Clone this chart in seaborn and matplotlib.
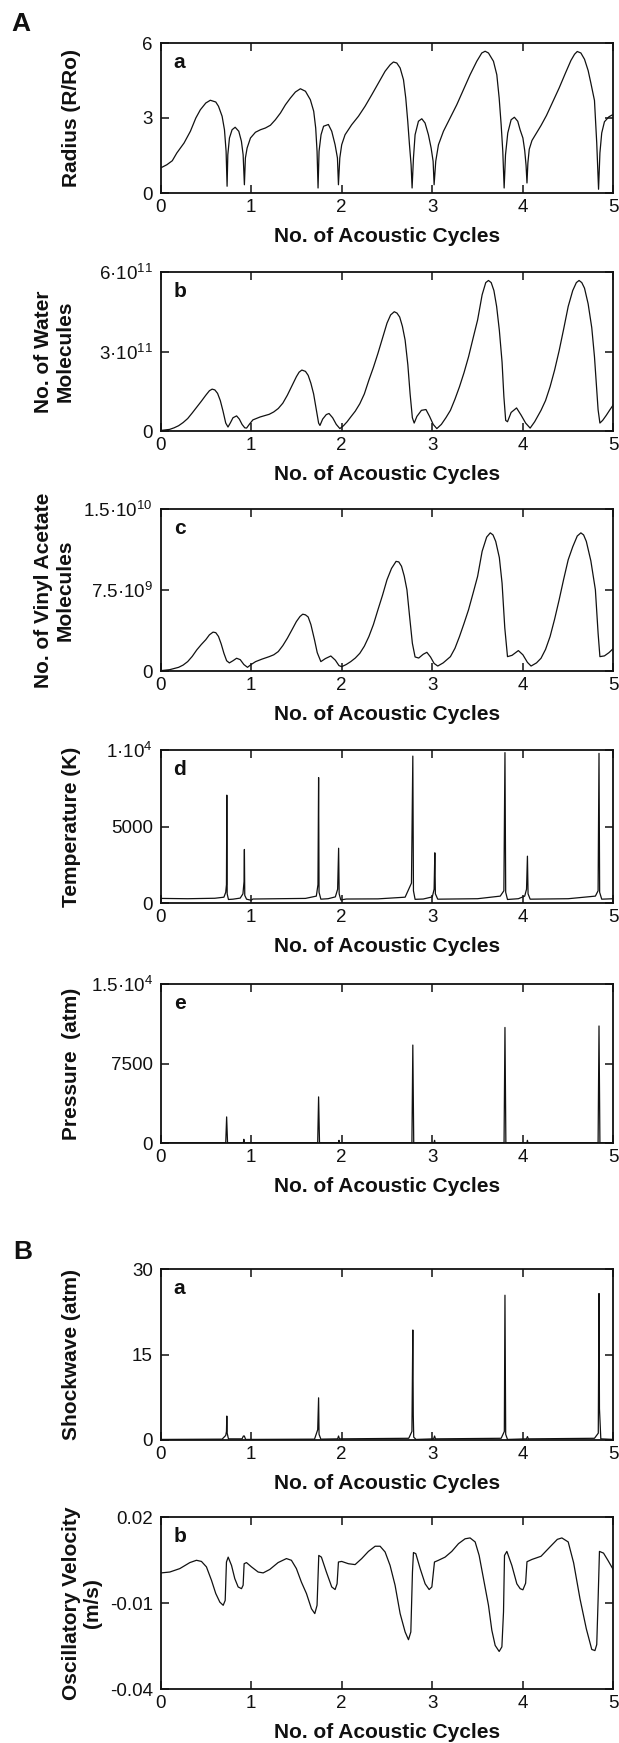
import numpy as np
import matplotlib
matplotlib.use("Agg")
import matplotlib.pyplot as plt
import seaborn as sns

# ──────────────────────────────────────────────
# DATA
# ──────────────────────────────────────────────

radius_x = [0.0, 0.07, 0.13, 0.18, 0.26, 0.33, 0.39, 0.44, 0.5, 0.55, 0.61, 0.64,
            0.68, 0.706, 0.724, 0.735, 0.743, 0.761, 0.79, 0.824, 0.864, 0.893,
            0.912, 0.926, 0.937, 0.956, 0.993, 1.048, 1.103, 1.158, 1.213, 1.268,
            1.324, 1.379, 1.434, 1.489, 1.544, 1.6, 1.654, 1.691, 1.713, 1.728,
            1.739, 1.75, 1.772, 1.8, 1.853, 1.89, 1.927, 1.953, 1.964, 1.979, 2.0,
            2.037, 2.11, 2.185, 2.258, 2.332, 2.405, 2.479, 2.535, 2.571, 2.608,
            2.645, 2.682, 2.707, 2.729, 2.748, 2.766, 2.777, 2.792, 2.81, 2.847,
            2.884, 2.92, 2.957, 2.987, 3.009, 3.02, 3.038, 3.068, 3.123, 3.196,
            3.27, 3.343, 3.417, 3.491, 3.546, 3.583, 3.62, 3.675, 3.712, 3.738,
            3.76, 3.778, 3.793, 3.808, 3.833, 3.87, 3.906, 3.943, 3.969, 4.0,
            4.02, 4.035, 4.045, 4.055, 4.07, 4.1, 4.15, 4.2, 4.26, 4.33, 4.4,
            4.47, 4.53, 4.57, 4.6, 4.64, 4.68, 4.72, 4.75, 4.79, 4.815, 4.835,
            4.85, 4.87, 4.9, 4.95, 5.0]
radius_y = [1.0, 1.13, 1.29, 1.6, 2.0, 2.47, 3.0, 3.33, 3.6, 3.71, 3.64, 3.47,
            3.07, 2.53, 1.67, 0.27, 1.53, 2.2, 2.53, 2.63, 2.47, 2.07,
            1.53, 0.33, 1.4, 1.8, 2.2, 2.43, 2.53, 2.6, 2.71, 2.93,
            3.2, 3.53, 3.8, 4.04, 4.17, 4.07, 3.73, 3.27, 2.6, 1.67,
            0.2, 1.67, 2.33, 2.67, 2.74, 2.47, 1.93, 1.4, 0.33, 1.4, 1.93,
            2.33, 2.73, 3.07, 3.47, 3.93, 4.4, 4.87, 5.13, 5.24, 5.2,
            5.0, 4.53, 3.8, 2.87, 1.93, 1.13, 0.2, 1.4, 2.33, 2.87,
            2.97, 2.8, 2.33, 1.8, 1.27, 0.33, 1.27, 1.93, 2.47, 3.0,
            3.53, 4.13, 4.73, 5.27, 5.6, 5.67, 5.6, 5.27, 4.73, 3.8,
            2.73, 1.67, 0.2, 1.53, 2.4, 2.93, 3.03, 2.87, 2.53, 2.2,
            1.7, 1.1, 0.4, 1.2, 1.75, 2.1, 2.4, 2.7, 3.1, 3.65, 4.2,
            4.8, 5.3, 5.55, 5.66, 5.6, 5.35, 4.9, 4.4, 3.7, 2.0, 0.15,
            1.6, 2.4, 2.85, 3.05, 3.15]

# number of water molecules, in units of 1e11
water_x = [0, 0.1, 0.15, 0.2, 0.25, 0.3, 0.35, 0.4, 0.45, 0.5, 0.54, 0.57, 0.6, 0.63,
           0.66, 0.69, 0.72, 0.745, 0.77, 0.8, 0.84, 0.87, 0.9, 0.93, 0.95, 0.98,
           1.02, 1.1, 1.2, 1.25, 1.3, 1.35, 1.4, 1.45, 1.5, 1.53, 1.56, 1.6, 1.63,
           1.66, 1.69, 1.72, 1.745, 1.76, 1.79, 1.83, 1.86, 1.9, 1.94, 1.98, 2.02,
           2.06, 2.1, 2.15, 2.2, 2.25, 2.3, 2.35, 2.4, 2.45, 2.5, 2.54, 2.58, 2.61,
           2.64, 2.67, 2.7, 2.73, 2.755, 2.78, 2.8, 2.83, 2.88, 2.93, 2.97, 3.01,
           3.05, 3.1, 3.15, 3.2, 3.25, 3.3, 3.35, 3.4, 3.45, 3.5, 3.55, 3.59, 3.62,
           3.65, 3.68, 3.71, 3.74, 3.77, 3.79, 3.81, 3.83, 3.87, 3.93, 3.98, 4.03,
           4.08, 4.13, 4.2, 4.25, 4.3, 4.35, 4.4, 4.45, 4.5, 4.55, 4.59, 4.62, 4.65,
           4.68, 4.72, 4.76, 4.79, 4.81, 4.83, 4.85, 4.88, 4.92, 4.96, 5.0]
water_y = [0.02, 0.06, 0.12, 0.2, 0.32, 0.47, 0.68, 0.9, 1.12, 1.35, 1.52, 1.58, 1.55,
           1.42, 1.15, 0.75, 0.3, 0.15, 0.3, 0.5, 0.57, 0.45, 0.25, 0.12, 0.11,
           0.25, 0.42, 0.53, 0.63, 0.72, 0.85, 1.05, 1.35, 1.7, 2.05, 2.22, 2.3,
           2.25, 2.1, 1.8, 1.4, 0.8, 0.3, 0.21, 0.45, 0.62, 0.66, 0.5, 0.25, 0.09,
           0.2, 0.35, 0.53, 0.75, 1.03, 1.4, 1.92, 2.4, 2.93, 3.5, 4.07, 4.38, 4.5,
           4.45, 4.3, 3.95, 3.43, 2.5, 1.4, 0.5, 0.3, 0.55, 0.78, 0.81, 0.55, 0.25,
           0.09, 0.25, 0.5, 0.78, 1.2, 1.67, 2.2, 2.8, 3.5, 4.19, 5.14, 5.6, 5.68,
           5.6, 5.3, 4.7, 3.8, 2.6, 1.3, 0.4, 0.35, 0.7, 0.87, 0.6, 0.3,
           0.11, 0.35, 0.78, 1.15, 1.67, 2.3, 3.03, 3.85, 4.7, 5.3, 5.6, 5.68, 5.6,
           5.39, 4.8, 3.9, 2.8, 1.8, 0.8, 0.3, 0.4, 0.59, 0.8, 1.0]
WATER_UNIT = 1e11

# number of vinyl acetate molecules, in units of 1e9
vinyl_x = [0, 0.1, 0.2, 0.25, 0.3, 0.35, 0.4, 0.45, 0.5, 0.54, 0.58, 0.61, 0.64, 0.67,
           0.7, 0.73, 0.76, 0.8, 0.84, 0.88, 0.92, 0.96, 1.0, 1.05, 1.12, 1.2, 1.25,
           1.3, 1.35, 1.4, 1.45, 1.5, 1.54, 1.57, 1.6, 1.63, 1.66, 1.7, 1.73, 1.77,
           1.82, 1.88, 1.93, 1.97, 2.0, 2.05, 2.1, 2.15, 2.2, 2.25, 2.3, 2.35, 2.4,
           2.45, 2.5, 2.55, 2.6, 2.63, 2.66, 2.69, 2.72, 2.75, 2.78, 2.81, 2.85,
           2.9, 2.94, 2.98, 3.02, 3.06, 3.12, 3.2, 3.25, 3.3, 3.35, 3.4, 3.45, 3.5,
           3.55, 3.6, 3.64, 3.67, 3.7, 3.74, 3.77, 3.8, 3.83, 3.88, 3.95, 4.0, 4.05,
           4.09, 4.15, 4.2, 4.25, 4.3, 4.35, 4.4, 4.45, 4.5, 4.55, 4.6, 4.64, 4.67,
           4.7, 4.75, 4.8, 4.83, 4.85, 4.9, 4.95, 5.0]
vinyl_y = [0.03, 0.12, 0.34, 0.55, 0.87, 1.35, 1.95, 2.45, 2.9, 3.35, 3.6, 3.55, 3.2,
           2.5, 1.64, 0.95, 0.75, 0.95, 1.18, 1.05, 0.6, 0.34, 0.6, 0.87, 1.1, 1.33,
           1.5, 1.8, 2.35, 3.03, 3.8, 4.58, 5.05, 5.26, 5.2, 5.0, 4.3, 2.88, 1.7,
           0.87, 1.15, 1.39, 1.0, 0.5, 0.4, 0.6, 0.87, 1.2, 1.64, 2.3, 3.19, 4.3,
           5.67, 7.0, 8.45, 9.5, 10.15, 10.1, 9.7, 8.8, 7.52, 5.0, 2.57, 1.3, 1.2,
           1.55, 1.73, 1.3, 0.7, 0.46, 0.75, 1.33, 2.1, 3.19, 4.4, 5.67, 7.2, 8.76,
           11.08, 12.4, 12.79, 12.6, 12.0, 10.5, 8.14, 4.0, 1.33, 1.45, 1.89, 1.5,
           0.8, 0.46, 0.75, 1.18, 2.0, 3.19, 4.8, 6.59, 8.5, 10.3, 11.5, 12.5,
           12.79, 12.6, 12.0, 10.2, 7.52, 3.5, 1.33, 1.4, 1.7, 2.1]
VINYL_UNIT = 1e9

temp_x = [0, 0.3, 0.6, 0.70, 0.72, 0.728, 0.732, 0.736, 0.75, 0.8, 0.88, 0.91, 0.922,
          0.926, 0.93, 0.95, 1.0, 1.02, 1.3, 1.6, 1.72, 1.738, 1.745, 1.75, 1.77,
          1.85, 1.93, 1.955, 1.966, 1.972, 1.99, 2.05, 2.4, 2.7, 2.77, 2.785, 2.792,
          2.81, 2.9, 3.0, 3.02, 3.028, 3.034, 3.06, 3.5, 3.75, 3.79, 3.802, 3.81,
          3.83, 3.95, 4.02, 4.04, 4.05, 4.057, 4.08, 4.5, 4.8, 4.83, 4.84, 4.847,
          4.87, 5.0]
temp_y = [300, 280, 310, 380, 700, 1200, 7050, 600, 230, 250, 320, 600, 1400, 3500,
          500, 250, 180, 260, 280, 300, 450, 1200, 8200, 700, 250, 280, 400, 900,
          3580, 600, 200, 260, 270, 380, 1300, 9600, 800, 240, 260, 400, 900, 3280,
          600, 250, 280, 450, 800, 9830, 700, 230, 280, 450, 900, 3060, 600, 250,
          280, 450, 800, 9780, 700, 250, 280]

pressure_x = [0, 0.72, 0.73, 0.74, 0.915, 0.92, 0.925, 1.735, 1.745, 1.755, 1.965,
              1.97, 1.975, 2.775, 2.785, 2.795, 3.02, 3.025, 3.03, 3.792, 3.802, 3.812,
              4.045, 4.05, 4.055, 4.83, 4.84, 4.85, 5.0]
pressure_y = [20, 30, 2460, 30, 30, 350, 30, 30, 4350, 30, 30, 250, 30, 30, 9240, 30,
              30, 250, 30, 30, 10900, 30, 30, 250, 30, 30, 11040, 30, 20]

shock_x = [0, 0.68, 0.72, 0.728, 0.732, 0.736, 0.75, 0.9, 0.915, 0.925, 0.94, 1.7,
           1.735, 1.745, 1.75, 1.77, 1.955, 1.965, 1.975, 2.74, 2.775, 2.785, 2.79,
           2.795, 2.82, 3.015, 3.025, 3.035, 3.76, 3.795, 3.802, 3.81, 3.83, 4.04,
           4.05, 4.06, 4.79, 4.832, 4.84, 4.845, 4.86, 5.0]
shock_y = [0.1, 0.15, 0.8, 1.5, 4.2, 1.2, 0.2, 0.2, 0.7, 0.7, 0.1, 0.15,
           1.8, 7.4, 1.0, 0.15, 0.2, 0.7, 0.2, 0.3, 1.5, 19.3, 4.4,
           0.5, 0.1, 0.2, 0.7, 0.2, 0.3, 1.5, 25.4, 1.0, 0.1, 0.2, 0.6,
           0.2, 0.3, 1.2, 25.7, 5.5, 0.2, 0.1]

velocity_x = [0.0, 0.103, 0.213, 0.324, 0.397, 0.452, 0.507, 0.563, 0.61, 0.655, 0.692,
              0.714, 0.728, 0.747, 0.784, 0.82, 0.857, 0.894, 0.912, 0.923, 0.949,
              1.004, 1.078, 1.133, 1.206, 1.298, 1.39, 1.445, 1.5, 1.555, 1.611,
              1.666, 1.703, 1.728, 1.747, 1.776, 1.831, 1.89, 1.927, 1.949, 1.964,
              2.0, 2.074, 2.148, 2.221, 2.295, 2.369, 2.424, 2.479, 2.534, 2.589,
              2.645, 2.7, 2.737, 2.763, 2.781, 2.792, 2.818, 2.866, 2.921, 2.965,
              2.995, 3.024, 3.068, 3.141, 3.215, 3.289, 3.362, 3.417, 3.473, 3.517,
              3.565, 3.62, 3.657, 3.694, 3.738, 3.768, 3.786, 3.797, 3.823, 3.878,
              3.933, 3.97, 4.0, 4.03, 4.045, 4.1, 4.2, 4.3, 4.38, 4.43, 4.5, 4.56,
              4.63, 4.7, 4.76, 4.795, 4.815, 4.83, 4.845, 4.89, 4.94, 5.0]
velocity_y = [0.00047, 0.00081, 0.002, 0.0041, 0.0049, 0.0045, 0.0026, -0.0021,
              -0.0067, -0.0097, -0.0108, -0.0091, 0.0043, 0.006, 0.0031, -0.0015,
              -0.0044, -0.005, -0.0038, 0.0037, 0.0041, 0.0026, 0.0008, 0.0005,
              0.0017, 0.0041, 0.0055, 0.0049, 0.002, -0.0027, -0.0067, -0.012,
              -0.0137, -0.0108, 0.0066, 0.006, 0.0008, -0.0044, -0.0053, -0.0033,
              0.0043, 0.0045, 0.0037, 0.0034, 0.0055, 0.008, 0.0098, 0.0098, 0.0078,
              0.0031, -0.0038, -0.0137, -0.0201, -0.0228, -0.0201, 0.0008, 0.0076,
              0.0072, 0.002, -0.0033, -0.0053, -0.0044, 0.0043, 0.0049, 0.006,
              0.008, 0.0107, 0.0124, 0.0127, 0.0113, 0.0066, -0.0015, -0.0108,
              -0.0195, -0.0248, -0.0269, -0.0253, -0.0131, 0.0066, 0.008, 0.0031,
              -0.0033, -0.005, -0.0054, -0.0031, 0.0044, 0.0052, 0.0063, 0.0096,
              0.0122, 0.0127, 0.0113, 0.0040, -0.0085, -0.0190, -0.0262, -0.0266,
              -0.0245, -0.0089, 0.0080, 0.0074, 0.0048, 0.0015]

x_ticks = [0, 1, 2, 3, 4, 5]

# ──────────────────────────────────────────────
# STYLE
# ──────────────────────────────────────────────

sns.set_theme(style="ticks")
FONT = ["Liberation Sans", "DejaVu Sans"]
plt.rcParams.update({
    "font.family": FONT,
    "mathtext.fontset": "custom",
    "mathtext.rm": "Liberation Sans",
    "mathtext.it": "Liberation Sans",
    "mathtext.bf": "Liberation Sans:bold",
    "axes.linewidth": 1.3,
    "axes.edgecolor": "#111111",
    "xtick.color": "#111111",
    "ytick.color": "#111111",
    "text.color": "#111111",
    "axes.labelcolor": "#111111",
})

W, H = 619, 1743
fig = plt.figure(figsize=(W / 100, H / 100), dpi=100)
LEFT, RIGHT = 160.5, 613.5


def make_axes(top, bottom):
    return fig.add_axes([LEFT / W, 1 - bottom / H, (RIGHT - LEFT) / W, (bottom - top) / H])


def draw_panel(ax, x, y, yticks, ylabels, ylabel, letter, label_center):
    sns.lineplot(x=x, y=y, ax=ax, color="#111111", linewidth=0.9,
                 estimator=None, sort=False)
    ax.set_xlim(0, 5)
    ax.set_ylim(yticks[0], yticks[-1])
    ax.set_xticks(x_ticks, labels=[str(t) for t in x_ticks])
    ax.set_yticks(yticks, labels=ylabels)
    ax.tick_params(direction="in", top=True, right=True, length=6, width=1.1,
                   labelsize=13.5)
    ax.tick_params(axis="y", pad=5.5)
    ax.tick_params(axis="x", pad=4.5)
    for side in ["top", "right"]:
        ax.spines[side].set_visible(True)
    ax.set_xlabel("No. of Acoustic Cycles", fontsize=15, fontweight="bold",
                  labelpad=8)
    ax.set_ylabel(ylabel, fontsize=15, fontweight="bold", linespacing=1.15,
                  va="center")
    ax.yaxis.set_label_coords((label_center - LEFT) / (RIGHT - LEFT), 0.5)
    ax.annotate(letter, xy=(0, 1), xycoords="axes fraction", xytext=(13.7, -13.7),
                textcoords="offset points", ha="center", va="center",
                fontsize=15, fontweight="bold")


ax = make_axes(43, 193)
draw_panel(ax, radius_x, radius_y, [0, 3, 6], ["0", "3", "6"],
           "Radius (R/Ro)", "a", 71)

ax = make_axes(272, 431)
draw_panel(ax, water_x, np.array(water_y) * WATER_UNIT, [0, 3e11, 6e11],
           ["0", "3·10$^{11}$", "6·10$^{11}$"],
           "No. of Water\nMolecules", "b", 54.5)

ax = make_axes(509, 671)
draw_panel(ax, vinyl_x, np.array(vinyl_y) * VINYL_UNIT, [0, 7.5e9, 1.5e10],
           ["0", "7.5·10$^{9}$", "1.5·10$^{10}$"],
           "No. of Vinyl Acetate\nMolecules", "c", 54.5)

ax = make_axes(750, 903)
draw_panel(ax, temp_x, temp_y, [0, 5000, 1e4], ["0", "5000", "1·10$^{4}$"],
           "Temperature (K)", "d", 71)

ax = make_axes(984, 1143)
draw_panel(ax, pressure_x, pressure_y, [0, 7500, 1.5e4], ["0", "7500", "1.5·10$^{4}$"],
           "Pressure  (atm)", "e", 71)

ax = make_axes(1269, 1440)
draw_panel(ax, shock_x, shock_y, [0, 15, 30], ["0", "15", "30"],
           "Shockwave (atm)", "a", 71)

ax = make_axes(1517, 1689)
draw_panel(ax, velocity_x, velocity_y, [-0.04, -0.01, 0.02], ["-0.04", "-0.01", "0.02"],
           "Oscillatory Velocity\n(m/s)", "b", 82)

fig.text(21 / W, 1 - 24 / H, "A", ha="center", va="center", fontsize=19,
         fontweight="bold")
fig.text(23 / W, 1 - 1252 / H, "B", ha="center", va="center", fontsize=19,
         fontweight="bold")

fig.savefig("out.png", dpi=100, facecolor="white")
